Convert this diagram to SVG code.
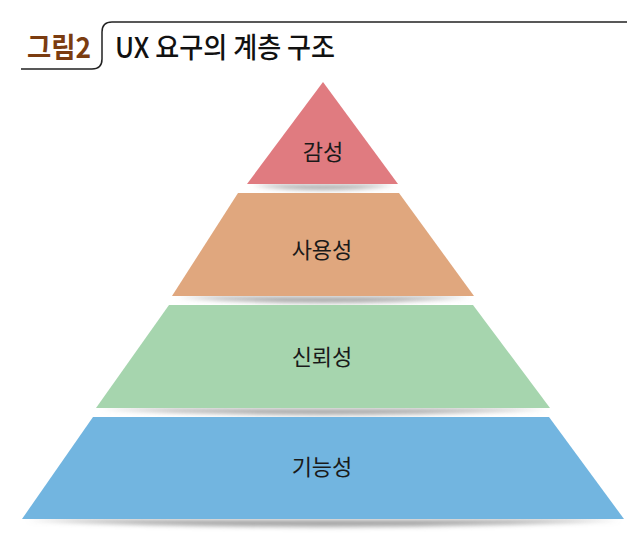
<svg xmlns="http://www.w3.org/2000/svg" width="640" height="541" viewBox="0 0 640 541">
<defs>
<style>
.lbl{font-family:"Noto Sans CJK KR","Noto Sans",sans-serif;font-size:22px;fill:#1a1a1a;text-anchor:middle}
.ttl{font-family:"Noto Sans CJK KR","Noto Sans",sans-serif;font-size:28px}
.shadow{fill:#9a9a9a;filter:url(#blur)}
</style>
<filter id="blur" x="-10%" y="-200%" width="120%" height="500%"><feGaussianBlur stdDeviation="2.5"/></filter>
</defs>
<rect width="640" height="541" fill="#ffffff"/>
<g id="title">
<path d="M21,69 H92 Q102,69 102,59 V32 Q102,22 112,22 H627" fill="none" stroke="#222" stroke-width="1.5"/>
<text class="ttl" x="27" y="58" fill="#7b3c10" font-weight="bold" textLength="64" lengthAdjust="spacingAndGlyphs">그림2</text>
<text class="ttl" x="115" y="58" fill="#111" font-weight="500" textLength="220" lengthAdjust="spacingAndGlyphs">UX 요구의 계층 구조</text>
</g>
<g id="shadows">
<path class="shadow" d="M252,185 Q323,194 394,185 Z"/>
<path class="shadow" d="M177,297 Q323,308 470,297 Z"/>
<path class="shadow" d="M101,409 Q323,420 546,409 Z"/>
<path class="shadow" d="M27,520 Q323,533 620,520 Z"/>
</g>
<g id="tier-emotion">
<polygon points="323,82 398,184 247,184" fill="#e07b80"/>
<text class="lbl" x="323" y="160">감성</text>
</g>
<g id="tier-usability">
<polygon points="238,193 399,193 474,296 172,296" fill="#e0a77e"/>
<text class="lbl" x="322" y="258">사용성</text>
</g>
<g id="tier-reliability">
<polygon points="169,305 473,305 550,408 96,408" fill="#a6d5ae"/>
<text class="lbl" x="322" y="365">신뢰성</text>
</g>
<g id="tier-functionality">
<polygon points="93,417 549,417 624,519 22,519" fill="#72b5e0"/>
<text class="lbl" x="322" y="475">기능성</text>
</g>
</svg>
